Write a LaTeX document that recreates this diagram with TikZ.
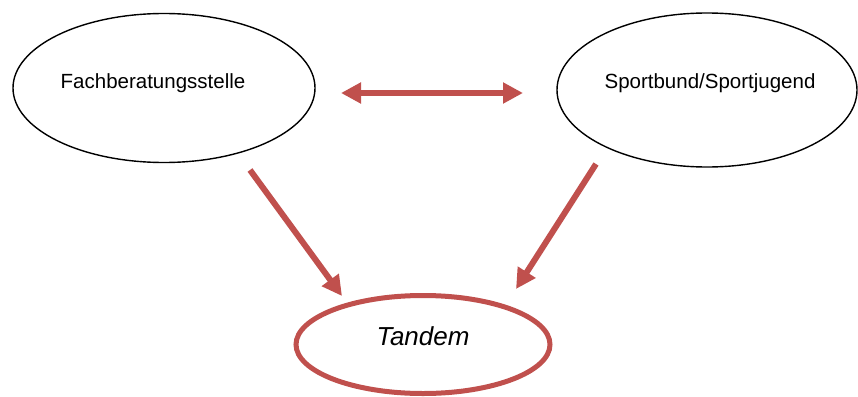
\documentclass[tikz,border=0pt]{standalone}
\usepackage{fontspec}
\setmainfont{Liberation Sans}
\usetikzlibrary{shapes.geometric,arrows.meta}
\definecolor{accred}{HTML}{C0504D}
\tikzset{
  oval/.style={ellipse, draw=black, line width=1.4pt, inner sep=0pt},
  tandemoval/.style={ellipse, draw=accred, line width=5pt, inner sep=0pt},
  ovaltext/.style={font=\fontsize{20.5}{24}\selectfont, text=black},
  bigarrow/.style={draw=accred, line width=6pt, -{Triangle[width=20pt,length=20pt]}},
  dblarrow/.style={draw=accred, line width=6pt, {Triangle[width=20pt,length=20pt]}-{Triangle[width=20pt,length=20pt]}}
}
\begin{document}
\begin{tikzpicture}[x=1pt,y=-1pt]
\useasboundingbox (0,0) rectangle (858,396);
\node[oval, minimum width=302pt, minimum height=149pt,
      label={[ovaltext, xshift=-11pt, yshift=5pt]center:Fachberatungsstelle}] (fb) at (164,88) {};
\node[oval, minimum width=300pt, minimum height=154pt,
      label={[ovaltext, xshift=3pt, yshift=7pt]center:Sportbund/Sportjugend}] (sb) at (707,90) {};
\node[tandemoval, minimum width=254pt, minimum height=98pt,
      label={[font=\fontsize{26}{30}\selectfont\itshape, yshift=8pt]center:Tandem}] (td) at (423,344.5) {};
\coordinate (hL) at (341,93);
\coordinate (hR) at (523,93);
\coordinate (aS) at (250,170);
\coordinate (aE) at (342,296);
\coordinate (bS) at (596,164);
\coordinate (bE) at (516,289);
\draw[dblarrow] (hL) -- (hR);
\draw[bigarrow] (aS) -- (aE);
\draw[bigarrow] (bS) -- (bE);
\end{tikzpicture}
\end{document}
